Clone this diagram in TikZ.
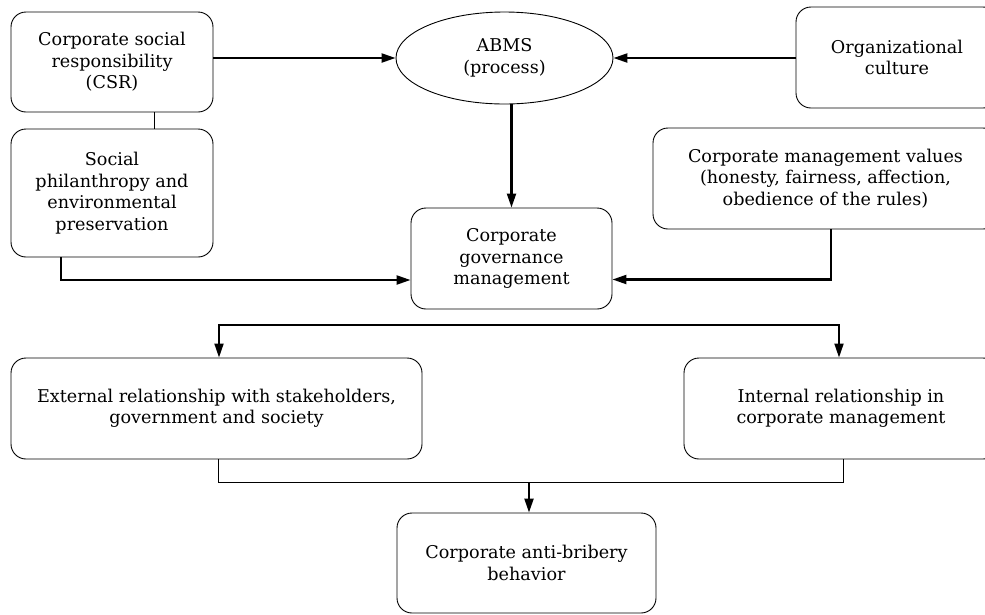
\documentclass[tikz,border=0pt]{standalone}
\usepackage{fontspec}
\setmainfont{DejaVu Serif}
\usetikzlibrary{arrows.meta,shapes.geometric}

\begin{document}
\begin{tikzpicture}[x=1pt, y=-1pt,
    font=\fontsize{17.6}{21.5}\selectfont,
    box/.style={draw, line width=0.9pt, rounded corners=15pt, align=center,
      inner sep=0pt},
    arr/.style={line width=2.2pt, -{Triangle[length=14pt,width=9pt]}},
    link/.style={line width=0.9pt}]
  % Frame
    \useasboundingbox (0,0) rectangle (985,614);

  % Boxes, top row
    \node[box, minimum width=202, minimum height=100] (csr) at (112,62)
      {Corporate social\\responsibility\\(CSR)};
    \node[box, minimum width=202, minimum height=128] (phil) at (112,193)
      {Social\\philanthropy and\\environmental\\preservation};
    \node[draw, line width=0.9pt, ellipse, align=center, inner sep=0pt,
      minimum width=217, minimum height=92] (abms) at (504.5,58)
      {ABMS\\(process)};
    \node[box, minimum width=202, minimum height=101] (orgcult) at (897,57.5)
      {Organizational\\culture};
    \node[box, minimum width=345, minimum height=101] (values) at (825.5,178.5)
      {Corporate management values\\(honesty, fairness, affection,\\obedience of the rules)};
    \node[box, minimum width=201, minimum height=101] (gov) at (511.5,258.5)
      {Corporate\\governance\\management};

  % Boxes, lower rows
    \node[box, minimum width=411, minimum height=101] (ext) at (216.5,408.5)
      {External relationship with stakeholders,\\government and society};
    \node[box, minimum width=314, minimum height=101] (int) at (841,408.5)
      {Internal relationship in\\corporate management};
    \node[box, minimum width=259, minimum height=100] (anti) at (526.5,563)
      {Corporate anti-bribery\\behavior};

  % Junctions
    \coordinate (splitL) at (219,325);
    \coordinate (splitR) at (839,325);
    \coordinate (merge) at (529,482);

  % Connectors into ABMS and governance
    \draw[arr] (csr.east |- abms.west) -- (abms.west);
    \draw[arr] (orgcult.west |- abms.east) -- (abms.east);
    \draw[arr] (abms.south -| gov.north) -- (gov.north);
    \draw[link] ([xshift=42pt]csr.south) -- ([xshift=42pt]phil.north);
    \draw[arr] ([xshift=-51pt]phil.south) |- ([yshift=-21.5pt]gov.west);
    \draw[arr] ([xshift=5.5pt]values.south) |- ([yshift=-21pt]gov.east);

  % Split and merge
    \draw[line width=1.8pt, {Triangle[length=14pt,width=9pt]}-{Triangle[length=14pt,width=9pt]}]
      (splitL |- ext.north) -- (splitL) -- (splitR) -- (splitR |- int.north);
    \draw[link] ([xshift=1.5pt]ext.south) |- (merge) -| ([xshift=2pt]int.south);
    \draw[arr] (merge) -- (merge |- anti.north);

\end{tikzpicture}
\end{document}
